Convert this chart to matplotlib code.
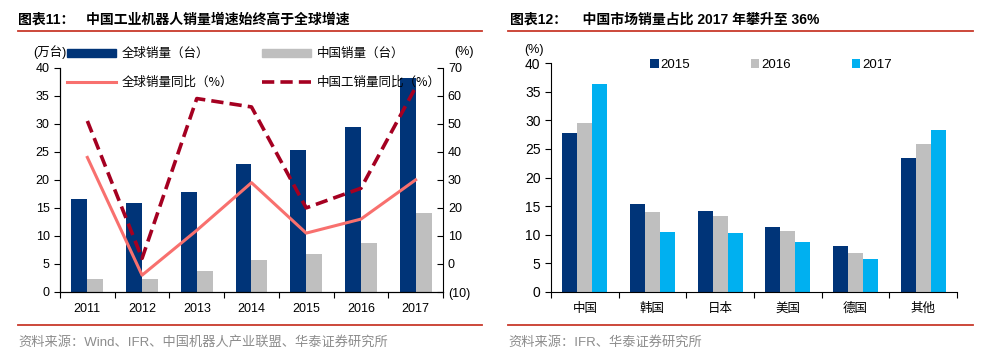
import numpy as np
import matplotlib.pyplot as plt
from matplotlib.lines import Line2D
from matplotlib.patches import Patch

plt.rcParams['font.family'] = ['Liberation Sans', 'Noto Sans CJK SC']
plt.rcParams['axes.unicode_minus'] = False

# chart 11 data
years = ['2011', '2012', '2013', '2014', '2015', '2016', '2017']
global_sales = [16.5, 15.9, 17.8, 22.9, 25.4, 29.4, 38.1]   # 万台
china_sales = [2.26, 2.3, 3.67, 5.7, 6.86, 8.7, 14.1]        # 万台
global_yoy = [38, -4, 12, 29, 11, 16, 30]                    # %
china_yoy = [51, 2, 59, 56, 20, 27, 63]                      # %

# chart 12 data
regions = ['中国', '韩国', '日本', '美国', '德国', '其他']
share_2015 = [27.8, 15.3, 14.1, 11.3, 8.0, 23.4]
share_2016 = [29.5, 13.9, 13.2, 10.6, 6.8, 25.8]
share_2017 = [36.3, 10.5, 10.2, 8.7, 5.8, 28.4]

NAVY = '#003478'
GREY = '#BFBFBF'
CYAN = '#00B0F0'
PINK = '#F8706E'
DRED = '#A50021'
RED = '#C8392B'
W, H = 1000, 359

fig = plt.figure(figsize=(10, 3.59), dpi=100)

def fx(px):
    return px / W

def fy(py):
    return 1 - py / H

# ---------- left chart ----------
ax = fig.add_axes([fx(60), fy(292), fx(443 - 60), fy(67.7) - fy(292)])
x = np.arange(len(years))
bw = 0.29
ax.bar(x - bw / 2, global_sales, bw, color=NAVY)
ax.bar(x + bw / 2, china_sales, bw, color=GREY)
ax.set_xlim(-0.5, len(years) - 0.5)
ax.set_ylim(0, 40)
ax.set_yticks(range(0, 41, 5))
ax.set_xticks(np.arange(-0.5, len(years), 1))
ax.set_xticklabels([])
ax.set_xticks(x, minor=True)
ax.set_xticklabels(years, minor=True)
ax.tick_params(axis='x', which='major', direction='out', length=4, width=0.8)
ax.tick_params(axis='x', which='minor', length=0, pad=8, labelsize=9)
ax.tick_params(axis='y', direction='out', length=4, width=0.8, labelsize=9)
ax.spines['top'].set_visible(False)
ax.spines['right'].set_visible(False)

ax_r = ax.twinx()
ax_r.plot(x, global_yoy, color=PINK, lw=2.2)
ax_r.plot(x, china_yoy, color=DRED, lw=2.6, dashes=(3.4, 1.7))
ax_r.set_ylim(-10, 70)
ax_r.set_yticks(range(-10, 71, 10))
ax_r.set_yticklabels(['(10)'] + [str(v) for v in range(0, 71, 10)])
ax_r.tick_params(axis='y', direction='in', length=4, width=0.8, labelsize=9)
ax_r.spines['top'].set_visible(False)
ax_r.set_xlim(-0.5, len(years) - 0.5)

# column-major order so rows read: bars on top, lines below
handles = [Patch(color=NAVY),
           Line2D([], [], color=PINK, lw=2.2),
           Patch(color=GREY),
           Line2D([], [], color=DRED, lw=2.6, dashes=(3.4, 1.7))]
labels = ['全球销量（台）', '全球销量同比（%）', '中国销量（台）', '中国工销量同比（%）']
fig.legend(handles, labels, ncol=2, loc='upper left', bbox_to_anchor=(fx(67), fy(47)),
           frameon=False, handlelength=3.9, handleheight=0.6,
           handletextpad=0.5, labelspacing=1.3, columnspacing=2.3,
           borderpad=0, borderaxespad=0, prop={'family': 'Noto Sans CJK SC', 'size': 9})

fig.text(fx(33), fy(52), '(万台)', fontsize=9, va='center', ha='left')
fig.text(fx(454), fy(52), '(%)', fontsize=9, va='center', ha='left')

# ---------- right chart ----------
ax2 = fig.add_axes([fx(551), fy(291.7), fx(957 - 551), fy(63.3) - fy(291.7)])
x2 = np.arange(len(regions))
bw2 = 0.222
ax2.bar(x2 - bw2, share_2015, bw2, color=NAVY, label='2015')
ax2.bar(x2, share_2016, bw2, color=GREY, label='2016')
ax2.bar(x2 + bw2, share_2017, bw2, color=CYAN, label='2017')
ax2.set_xlim(-0.5, len(regions) - 0.5)
ax2.set_ylim(0, 40)
ax2.set_yticks(range(0, 41, 5))
ax2.set_xticks(np.arange(-0.5, len(regions), 1))
ax2.set_xticklabels([])
ax2.set_xticks(x2, minor=True)
ax2.set_xticklabels(regions, minor=True)
ax2.tick_params(axis='x', which='major', direction='out', length=4, width=0.8)
ax2.tick_params(axis='x', which='minor', length=0, pad=8, labelsize=9)
ax2.tick_params(axis='y', direction='out', length=4, width=0.8, labelsize=10)
ax2.spines['top'].set_visible(False)
ax2.spines['right'].set_visible(False)
ax2.legend(ncol=3, loc='upper left', bbox_to_anchor=(fx(650), fy(59)),
           bbox_transform=fig.transFigure, frameon=False, fontsize=9.5,
           handlelength=0.65, handleheight=0.65, handletextpad=0.15,
           columnspacing=4.6, borderpad=0, borderaxespad=0)
fig.text(fx(524), fy(50), '(%)', fontsize=9, va='center', ha='left')

# ---------- titles, rules, sources ----------
title_font = ['Liberation Sans', 'Noto Sans CJK SC']
fig.text(fx(18), fy(20), '图表11：   中国工业机器人销量增速始终高于全球增速',
         fontsize=10, weight='bold', va='center', ha='left', family=title_font)
fig.text(fx(510), fy(20), '图表12：    中国市场销量占比 2017 年攀升至 36%',
         fontsize=10, weight='bold', va='center', ha='left', family=title_font)

for x0, x1 in [(18, 482), (508, 973)]:
    for yy in (31, 325):
        fig.add_artist(Line2D([fx(x0), fx(x1)], [fy(yy), fy(yy)], color=RED, lw=1.3))

fig.text(fx(18), fy(342), '资料来源：Wind、IFR、中国机器人产业联盟、华泰证券研究所',
         fontsize=9.5, color='#8C8C8C', va='center', ha='left')
fig.text(fx(508), fy(342), '资料来源：IFR、华泰证券研究所',
         fontsize=9.5, color='#8C8C8C', va='center', ha='left')

fig.savefig('out.png', dpi=100)
